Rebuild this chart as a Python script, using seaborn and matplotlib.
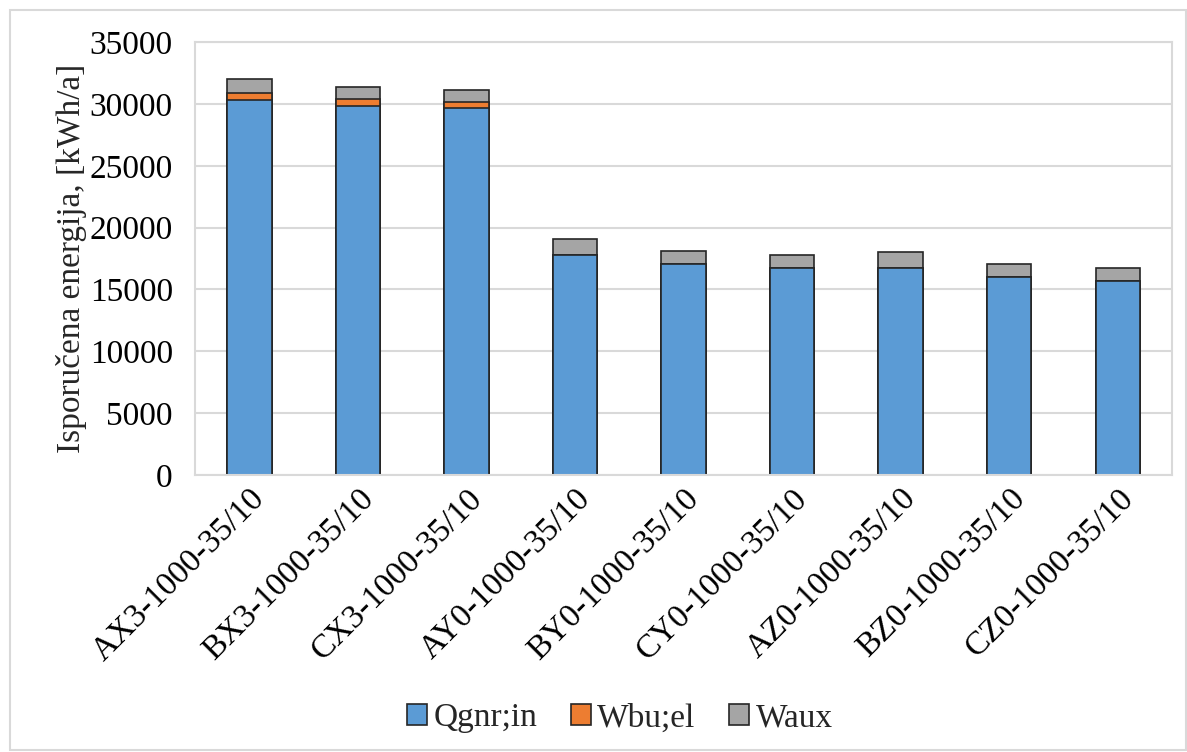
import numpy as np
import matplotlib.pyplot as plt
import seaborn as sns
import pandas as pd
from matplotlib.patches import Rectangle, Patch

# podaci ocitani sa grafika
oznake = ["AX3-1000-35/10", "BX3-1000-35/10", "CX3-1000-35/10",
          "AY0-1000-35/10", "BY0-1000-35/10", "CY0-1000-35/10",
          "AZ0-1000-35/10", "BZ0-1000-35/10", "CZ0-1000-35/10"]
qgnr_in = [30350, 29870, 29700, 17820, 17040, 16750, 16770, 15990, 15720]
wbu_el = [500, 490, 490, 0, 0, 0, 0, 0, 0]
waux = [1130, 990, 950, 1280, 1030, 1050, 1270, 1050, 1030]

df = pd.DataFrame({"oznaka": oznake, "Qgnr;in": qgnr_in,
                   "Wbu;el": wbu_el, "Waux": waux})
df["do_wbu"] = df["Qgnr;in"] + df["Wbu;el"]
df["ukupno"] = df["do_wbu"] + df["Waux"]

boje = {"Qgnr;in": "#5b9bd5", "Wbu;el": "#ed7d31", "Waux": "#a5a5a5"}

sns.set_style("white")
plt.rcParams["font.family"] = ["Liberation Serif", "DejaVu Serif"]

fig = plt.figure(figsize=(11.87, 7.52), dpi=100)
ax = fig.add_axes([0.1643, 0.3684, 0.8231, 0.5756])

# slaganje: najprije ukupno, pa preko njega manji dijelovi
sns.barplot(data=df, x="oznaka", y="ukupno", color=boje["Waux"], width=0.41,
            edgecolor="#262626", linewidth=1.2, saturation=1, ax=ax)
sns.barplot(data=df, x="oznaka", y="do_wbu", color=boje["Wbu;el"], width=0.41,
            edgecolor="#262626", linewidth=1.2, saturation=1, ax=ax)
sns.barplot(data=df, x="oznaka", y="Qgnr;in", color=boje["Qgnr;in"], width=0.41,
            edgecolor="#262626", linewidth=1.2, saturation=1, ax=ax)

ax.set_ylim(0, 35000)
ax.set_yticks(np.arange(0, 35001, 5000))
ax.set_xlim(-0.5, len(oznake) - 0.5)
ax.yaxis.grid(True, color="#d9d9d9", linewidth=1.5)
ax.set_axisbelow(True)
for s in ax.spines.values():
    s.set_color("#d9d9d9")
    s.set_linewidth(1.5)
ax.tick_params(axis="both", length=0, labelsize=24, colors="black")
ax.tick_params(axis="y", pad=16)
ax.tick_params(axis="x", pad=6)
plt.setp(ax.get_xticklabels(), rotation=45, ha="right", rotation_mode="anchor")
ax.set_xlabel("")
ax.set_ylabel("Isporučena energija, [kWh/a]", fontsize=24, labelpad=2)

rucke = [Patch(facecolor=boje[k], edgecolor="#262626", linewidth=1.2, label=k)
         for k in ["Qgnr;in", "Wbu;el", "Waux"]]
fig.legend(handles=rucke, loc="center", bbox_to_anchor=(0.522, 0.045), ncol=3,
           frameon=False, fontsize=24, handlelength=0.6, handleheight=0.6,
           handletextpad=0.2, columnspacing=1.0)

# okvir oko cijelog grafikona
fig.patches.append(Rectangle((10 / 1187, 2 / 752), 1 - 11 / 1187, 1 - 12 / 752,
                             transform=fig.transFigure, fill=False,
                             edgecolor="#d9d9d9", linewidth=1.5))

fig.savefig("out.png", dpi=100)
